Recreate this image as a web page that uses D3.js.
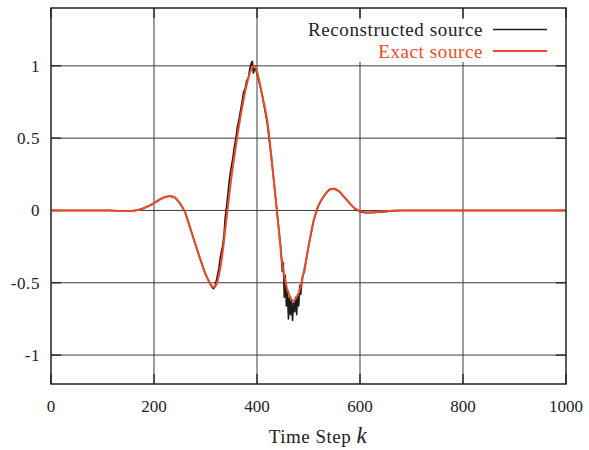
<!DOCTYPE html>
<html>
<head>
<meta charset="utf-8">
<script src="https://cdn.jsdelivr.net/npm/d3@7"></script>
<style>
  body { margin: 0; background: #fff; }
  svg text { font-family: "Liberation Serif", "DejaVu Serif", serif; fill: #222; }
</style>
</head>
<body>
<svg id="chart" width="589" height="450"></svg>
<script>
// exact source
const exactK = [0, 100, 110, 120, 130, 140, 150, 160, 170, 180, 190, 200, 210, 220, 230, 240, 250, 260, 270, 280,
  290, 300, 310, 315, 320, 330, 340, 350, 360, 370, 380, 390, 395, 400, 410, 420, 430, 440, 450, 460,
  470, 480, 490, 500, 510, 520, 530, 540, 550, 560, 570, 580, 590, 600, 610, 620, 630, 640, 650, 660,
  670, 680, 700, 1000];
const exactV = [0, 0, 0, -0.001, -0.003, -0.004, -0.004, -0.002, 0.003, 0.015, 0.03, 0.05, 0.072, 0.09, 0.098, 0.09, 0.05, -0.01, -0.12, -0.23,
  -0.34, -0.44, -0.51, -0.53, -0.52, -0.37, -0.08, 0.22, 0.47, 0.69, 0.87, 0.985, 1.0, 0.96, 0.8, 0.62, 0.3, -0.05, -0.39, -0.56,
  -0.625, -0.58, -0.44, -0.25, -0.07, 0.04, 0.1, 0.14, 0.148, 0.13, 0.09, 0.05, 0.015, -0.005, -0.012, -0.013, -0.011, -0.008, -0.005, -0.003,
  -0.001, 0, 0, 0];

// reconstructed source (noisy)
const reconK = [0, 100, 110, 120, 130, 140, 150, 160, 170, 180, 190, 200, 210, 220, 230, 240, 250, 260, 270, 280,
  290, 300, 310, 315, 318, 322, 326, 328, 330, 333, 336, 338, 341, 344, 347, 350, 353, 356, 359, 362,
  365, 368, 371, 374, 377, 380, 383, 386, 389, 391, 393, 395, 398, 402, 410, 420, 430, 440, 446, 449,
  451, 453, 455, 457, 459, 461, 463, 465, 467, 469, 471, 473, 475, 477, 479, 481, 483, 485, 488, 492,
  500, 510, 520, 530, 540, 550, 560, 570, 580, 590, 600, 610, 620, 630, 640, 650, 660, 670, 680, 700, 1000];
const reconV = [0, 0, 0.001, -0.002, -0.004, -0.005, -0.004, -0.002, 0.004, 0.016, 0.032, 0.052, 0.074, 0.092, 0.1, 0.092, 0.052, -0.008, -0.118, -0.228,
  -0.338, -0.44, -0.515, -0.54, -0.53, -0.47, -0.4, -0.34, -0.3, -0.25, -0.17, -0.06, 0.03, 0.13, 0.23, 0.3, 0.36, 0.44, 0.5, 0.58,
  0.63, 0.69, 0.75, 0.82, 0.84, 0.9, 0.91, 0.98, 1.02, 1.03, 0.95, 0.98, 0.97, 0.92, 0.8, 0.6, 0.3, -0.05, -0.25, -0.42,
  -0.36, -0.6, -0.45, -0.66, -0.55, -0.75, -0.6, -0.72, -0.62, -0.76, -0.64, -0.7, -0.6, -0.72, -0.58, -0.66, -0.52, -0.58, -0.46, -0.42,
  -0.25, -0.07, 0.04, 0.1, 0.145, 0.152, 0.13, 0.09, 0.05, 0.012, -0.008, -0.015, -0.016, -0.013, -0.01, -0.008, -0.004, -0.002, 0, 0, 0];

const xTicks = [0, 200, 400, 600, 800, 1000];
const yTicks = [-1, -0.5, 0, 0.5, 1];
const seriesNames = ["Reconstructed source", "Exact source"];

const red = "#ee4b25";
const plotL = 51, plotR = 566, plotT = 8, plotB = 384;

const svg = d3.select("#chart");
const x = d3.scaleLinear().domain([0, 1000]).range([plotL, plotR]);
const y = d3.scaleLinear().domain([-1.2, 1.4]).range([plotB, plotT]);

// grid
const grid = svg.append("g").attr("stroke", "#3a3a3a").attr("stroke-width", 1);
grid.selectAll(".gx").data(xTicks.slice(1, -1)).join("line")
  .attr("x1", d => x(d)).attr("x2", d => x(d))
  .attr("y1", plotT).attr("y2", plotB);
grid.selectAll(".gy").data(yTicks).join("line")
  .attr("x1", plotL).attr("x2", plotR)
  .attr("y1", d => y(d)).attr("y2", d => y(d));

// key background hides the grid behind it
svg.append("rect")
  .attr("x", 300).attr("y", 19).attr("width", plotR - 300 - 1).attr("height", 43)
  .attr("fill", "#fff");

// mirrored inward ticks
const ticks = svg.append("g").attr("stroke", "#222").attr("stroke-width", 1.3);
ticks.selectAll(".tb").data(xTicks).join("line")
  .attr("x1", d => x(d)).attr("x2", d => x(d)).attr("y1", plotB).attr("y2", plotB - 10);
ticks.selectAll(".tt").data(xTicks).join("line")
  .attr("x1", d => x(d)).attr("x2", d => x(d)).attr("y1", plotT).attr("y2", plotT + 10);
ticks.selectAll(".tl").data(yTicks).join("line")
  .attr("x1", plotL).attr("x2", plotL + 10).attr("y1", d => y(d)).attr("y2", d => y(d));
ticks.selectAll(".tr").data(yTicks).join("line")
  .attr("x1", plotR).attr("x2", plotR - 10).attr("y1", d => y(d)).attr("y2", d => y(d));

// curves
const recon = reconK.map((k, i) => [k, reconV[i]]);
const exact = exactK.map((k, i) => [k, exactV[i]]);

svg.append("path")
  .datum(recon)
  .attr("fill", "none")
  .attr("stroke", "#1c1c1c")
  .attr("stroke-width", 1.6)
  .attr("stroke-linejoin", "round")
  .attr("d", d3.line().x(d => x(d[0])).y(d => y(d[1])));

svg.append("path")
  .datum(exact)
  .attr("fill", "none")
  .attr("stroke", red)
  .attr("stroke-width", 2)
  .attr("d", d3.line().curve(d3.curveCatmullRom).x(d => x(d[0])).y(d => y(d[1])));

// border
svg.append("rect")
  .attr("x", plotL).attr("y", plotT).attr("width", plotR - plotL).attr("height", plotB - plotT)
  .attr("fill", "none").attr("stroke", "#222").attr("stroke-width", 1.5);

// tick labels
svg.append("g").attr("text-anchor", "middle").attr("font-size", 17)
  .selectAll("text").data(xTicks).join("text")
  .attr("x", d => x(d)).attr("y", 412)
  .text(d => d);
svg.append("g").attr("text-anchor", "end").attr("font-size", 17).attr("letter-spacing", 0.6)
  .selectAll("text").data(yTicks).join("text")
  .attr("x", 40).attr("y", d => y(d) + 6)
  .text(d => d);

// axis title
const title = svg.append("text")
  .attr("x", 318).attr("y", 443)
  .attr("text-anchor", "middle").attr("font-size", 19).attr("letter-spacing", 0.5);
title.append("tspan").text("Time Step ");
title.append("tspan").attr("font-style", "italic").attr("font-size", 23).text("k");

// key
const keyColors = ["#1c1c1c", red];
const key = svg.append("g");
key.selectAll("text").data(seriesNames).join("text")
  .attr("x", 483).attr("y", (d, i) => 36 + i * 21.5)
  .attr("text-anchor", "end").attr("font-size", 19).attr("letter-spacing", 0.6)
  .style("fill", (d, i) => i === 0 ? "#222" : red)
  .text(d => d);
key.selectAll("line").data(seriesNames).join("line")
  .attr("x1", 493).attr("x2", 547)
  .attr("y1", (d, i) => 29.5 + i * 21.5).attr("y2", (d, i) => 29.5 + i * 21.5)
  .attr("stroke", (d, i) => keyColors[i])
  .attr("stroke-width", (d, i) => i === 0 ? 1.5 : 2);
</script>
</body>
</html>
